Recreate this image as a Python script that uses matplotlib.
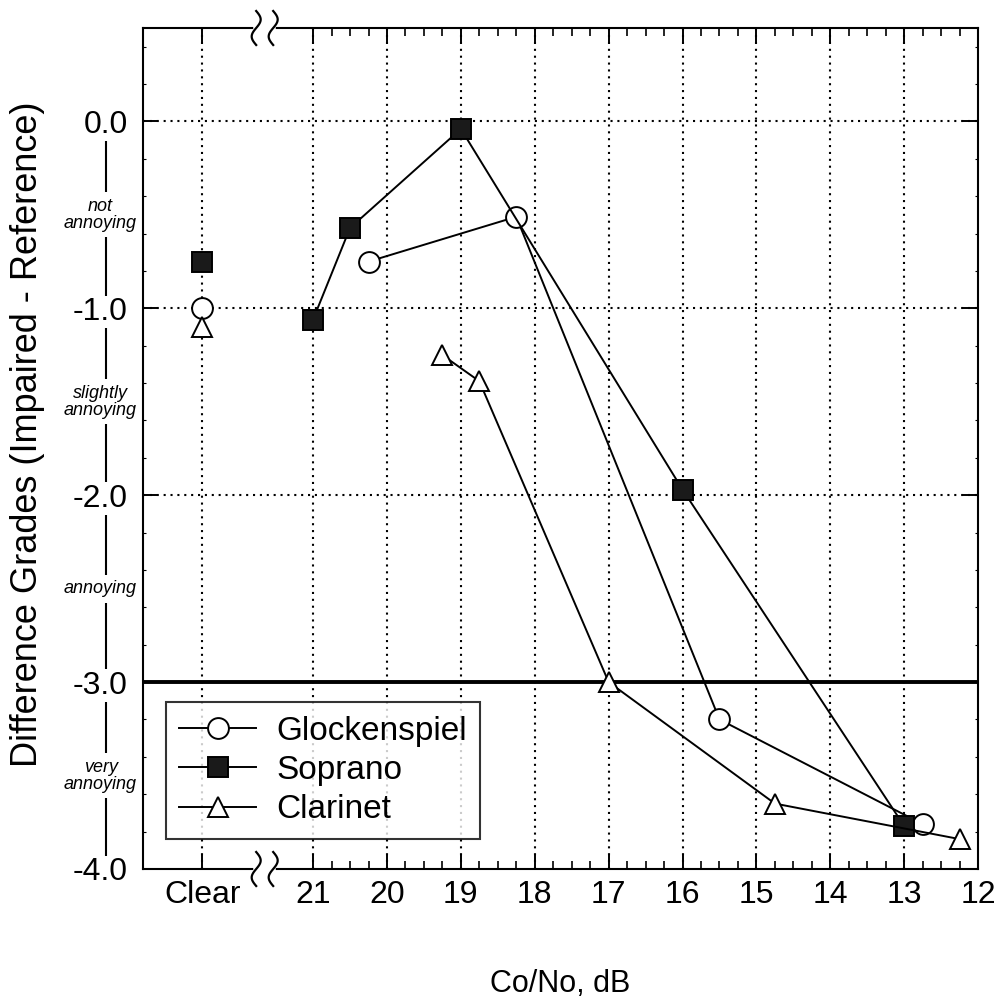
import numpy as np
import matplotlib.pyplot as plt
from matplotlib.transforms import ScaledTranslation

plt.rcParams['font.family'] = ['Liberation Sans', 'DejaVu Sans']

# --- данные ---
clear_pos = 22.5  # позиция "Clear" на оси (за разрывом)

glock_clear = -1.0
glock_x = [20.25, 18.25, 15.5, 12.75]
glock_y = [-0.75, -0.51, -3.20, -3.76]

sop_clear = -0.75
sop_x = [21, 20.5, 19, 16, 13]
sop_y = [-1.06, -0.57, -0.04, -1.97, -3.77]

clar_clear = -1.10
clar_x = [19.25, 18.75, 17, 14.75, 12.25]
clar_y = [-1.25, -1.39, -3.00, -3.65, -3.84]

x_ticks = [clear_pos, 21, 20, 19, 18, 17, 16, 15, 14, 13, 12]
x_labels = ['Clear', '21', '20', '19', '18', '17', '16', '15', '14', '13', '12']
y_ticks = [0.0, -1.0, -2.0, -3.0, -4.0]
y_labels = ['0.0', '-1.0', '-2.0', '-3.0', '-4.0']
grade_pos = [-0.5, -1.5, -2.5, -3.5]
grade_labels = ['not\nannoying', 'slightly\nannoying', 'annoying', 'very\nannoying']

# --- рисунок ---
fig = plt.figure(figsize=(9.94, 10.0), dpi=100)
ax = fig.add_axes([0.144, 0.131, 0.840, 0.841])

base = dict(color='black', lw=1.4, markeredgewidth=1.4, markeredgecolor='black', zorder=4)
ax.plot(glock_x, glock_y, marker='o', markersize=15, markerfacecolor='white',
        label='Glockenspiel', **base)
ax.plot(sop_x, sop_y, marker='s', markersize=14, markerfacecolor='#1a1a1a',
        label='Soprano', **base)
ax.plot(clar_x, clar_y, marker='^', markersize=15, markerfacecolor='white',
        label='Clarinet', **base)

# точки "Clear" без соединения
ax.plot([clear_pos], [glock_clear], marker='o', markersize=15, markerfacecolor='white',
        ls='none', **base)
ax.plot([clear_pos], [sop_clear], marker='s', markersize=14, markerfacecolor='#1a1a1a',
        ls='none', **base)
ax.plot([clear_pos], [clar_clear], marker='^', markersize=15, markerfacecolor='white',
        ls='none', **base)

ax.set_xlim(23.3, 12.0)
ax.set_ylim(-4.0, 0.5)

ax.set_xticks(x_ticks, x_labels)
ax.set_xticks(np.arange(12.25, 21.0, 0.25), minor=True)
ax.set_yticks(y_ticks, y_labels)
ax.set_yticks(np.arange(-3.8, 0.5, 0.2), minor=True)

ax.tick_params(which='both', direction='in', top=True, right=True, colors='black')
ax.tick_params(which='major', length=11, width=1.4, labelsize=23)
ax.tick_params(which='minor', length=6, width=1.2)
ax.tick_params(axis='y', which='minor', length=2.5, width=0.8)
ax.tick_params(axis='y', which='major', pad=11)
ax.tick_params(axis='x', which='major', pad=8)

for s in ax.spines.values():
    s.set_linewidth(1.5)

# пунктирная сетка
dot = (0, (1, 2.3))
for xv in x_ticks[:-1]:
    ax.axvline(xv, color='black', lw=1.5, ls=dot, zorder=1)
for yv in y_ticks[:3]:
    ax.axhline(yv, color='black', lw=1.5, ls=dot, zorder=1)
ax.axhline(-3.0, color='black', lw=2.8, zorder=2)

# разрыв оси между Clear и 21
brk = [21.77, 21.54]
xtr = ax.get_xaxis_transform()
for yy in (0.0, 1.0):
    ax.plot(brk, [yy, yy], color='white', lw=4, transform=xtr, clip_on=False, zorder=6)
    for bx in brk:
        t = np.linspace(-1, 1, 40)
        tr = fig.dpi_scale_trans + ScaledTranslation(bx, yy, xtr)
        ax.plot(0.045 * np.sin(np.pi * t), 0.17 * t, color='black', lw=1.6,
                transform=tr, clip_on=False, zorder=7)

# шкала оценок слева
ytr = ax.get_yaxis_transform()
ax.plot([-0.044, -0.044], [-0.08, -3.93], color='black', lw=1.5,
        transform=ytr, clip_on=False, zorder=1)
for lbl in ax.get_yticklabels():
    lbl.set_bbox(dict(facecolor='white', edgecolor='none', pad=1))
for yv, txt in zip(grade_pos, grade_labels):
    ax.text(-0.051, yv, txt, transform=ytr, ha='center', va='center', style='italic',
            fontsize=13, linespacing=1.0, clip_on=False, zorder=2,
            bbox=dict(facecolor='white', edgecolor='none', pad=4))

leg = ax.legend(loc='lower left', bbox_to_anchor=(0.0275, 0.036), borderaxespad=0,
                fontsize=24, frameon=True, fancybox=False, edgecolor='black',
                handlelength=2.3, handletextpad=0.6, labelspacing=0.25, borderpad=0.4)
leg.get_frame().set_linewidth(1.5)
leg.set_zorder(8)

fig.text(0.028, 0.566, 'Difference Grades (Impaired - Reference)', rotation=90,
         ha='center', va='center', fontsize=26)
fig.text(0.5635, 0.016, 'Co/No, dB', ha='center', va='center', fontsize=22)

fig.savefig('out.png', dpi=100, facecolor='white')
